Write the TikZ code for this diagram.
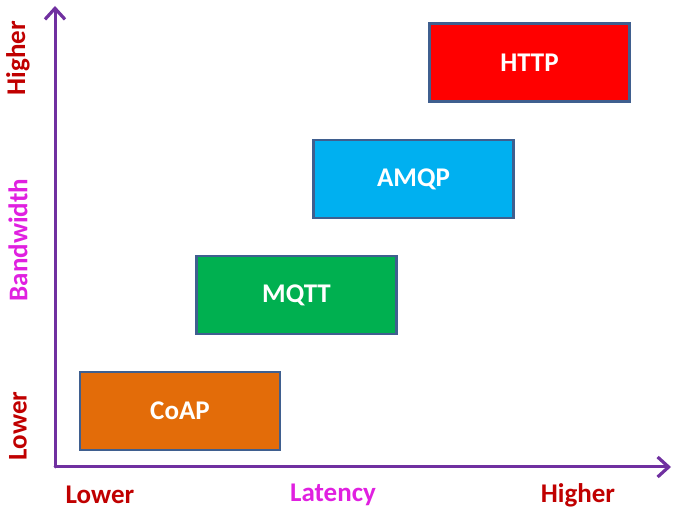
\documentclass[tikz,border=0pt]{standalone}
\usepackage{fontspec}
\setmainfont{Carlito}
\usetikzlibrary{arrows.meta}
\definecolor{axispurple}{HTML}{7030A0}
\definecolor{lbldark}{HTML}{C00000}
\definecolor{lblmag}{HTML}{E020E0}
\definecolor{boxedge}{HTML}{3F5F8F}
\definecolor{cred}{HTML}{FF0000}
\definecolor{cblue}{HTML}{00B0F0}
\definecolor{cgreen}{HTML}{00B050}
\definecolor{corange}{HTML}{E36C09}
\begin{document}
\begin{tikzpicture}[x=1pt,y=-1pt,
  proto/.style={draw=boxedge,line width=2.2pt,minimum width=200pt,minimum height=78pt,
    inner sep=0pt,text=white,font=\fontsize{27}{30}\selectfont\bfseries},
  axislbl/.style={font=\fontsize{27}{30}\selectfont\bfseries,text=lbldark,inner sep=0pt},
  axisline/.style={draw=axispurple,line width=3pt,line cap=round,-{Straight Barb[length=11pt,width=20pt,line width=3.2pt]}}]
\useasboundingbox (0,0) rectangle (673,510);
\coordinate (origin) at (55,467);
\coordinate (ytop) at (55,6);
\coordinate (xend) at (671,467);
\draw[axisline] (origin) -- (ytop);
\draw[axisline] (origin) -- (xend);
\node[proto,fill=corange] (coap) at (180,411) {CoAP};
\node[proto,fill=cgreen] (mqtt) at (296.5,295) {MQTT};
\node[proto,fill=cblue] (amqp) at (413.5,179) {AMQP};
\node[proto,fill=cred] (http) at (529.5,62.5) {HTTP};
\node[axislbl,rotate=90] (yhigh) at (18,58) {Higher};
\node[axislbl,rotate=90,text=lblmag] (ybw) at (18,240) {Bandwidth};
\node[axislbl,rotate=90] (ylow) at (18,426) {Lower};
\node[axislbl] (xlow) at (100,495) {Lower};
\node[axislbl,text=lblmag] (xlat) at (333,495) {Latency};
\node[axislbl] (xhigh) at (578,495) {Higher};
\end{tikzpicture}
\end{document}
